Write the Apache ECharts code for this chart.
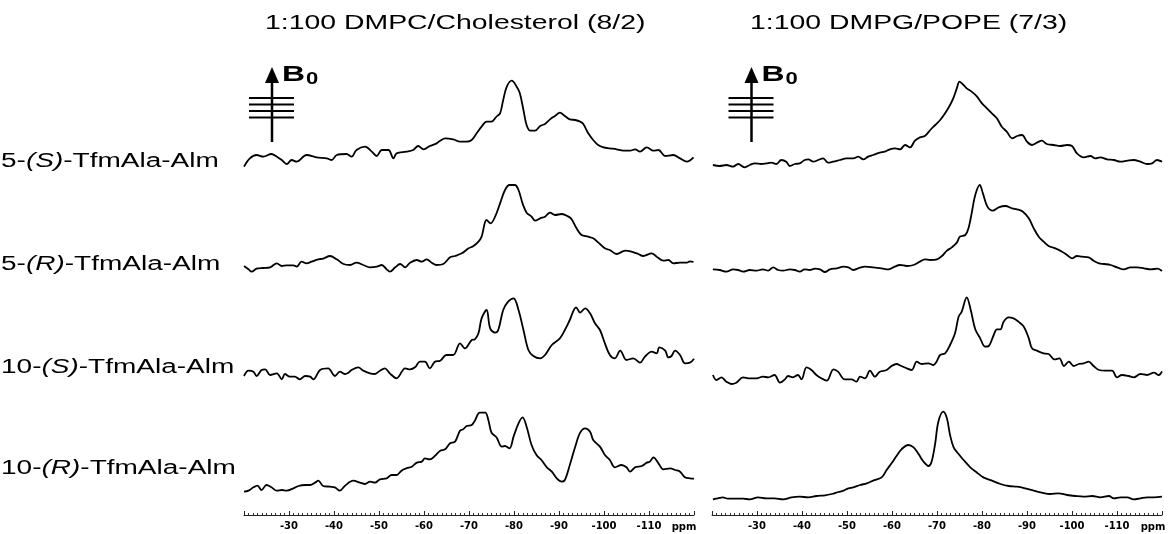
<!DOCTYPE html>
<html>
<head>
<meta charset="utf-8">
<script src="https://cdn.jsdelivr.net/npm/echarts@6/dist/echarts.min.js"></script>
<style>
  html, body { margin: 0; padding: 0; background: #ffffff; }
  #chart { width: 1168px; height: 534px; }
</style>
</head>
<body>
<div id="chart"></div>
<script>
// 19F solid-state NMR spectra of TfmAla-labelled alamethicin in oriented bilayers
const panelTitles = ['1:100 DMPC/Cholesterol (8/2)', '1:100 DMPG/POPE (7/3)'];
const rowLabels = [
  ['5-', '(S)', '-TfmAla-Alm'],
  ['5-', '(R)', '-TfmAla-Alm'],
  ['10-', '(S)', '-TfmAla-Alm'],
  ['10-', '(R)', '-TfmAla-Alm']
];
const shiftMin = -120;   // ppm, right end of the axis
const shiftMax = -20;    // ppm, left end of the axis
const shiftStep = 10;
const axisUnit = 'ppm';

// ---- DMPC/Cholesterol (8/2) ----
const dmpc5S_ppm = [-20.0,-21.3,-22.8,-24.3,-26.1,-27.3,-28.4,-29.5,-30.6,-31.7,-33.9,-36.1,-38.4,-39.5,-40.6,-42.8,-43.9,-45.0,-46.9,-48.4,-49.5,-50.6,-52.1,-53.2,-53.9,-56.1,-57.6,-58.7,-59.9,-61.3,-62.8,-63.6,-64.7,-66.5,-68.0,-69.5,-70.6,-71.7,-72.8,-73.9,-75.0,-76.1,-76.9,-77.6,-78.4,-79.5,-80.6,-81.3,-82.1,-82.8,-83.6,-84.7,-85.8,-86.9,-88.0,-89.1,-90.2,-91.3,-92.4,-93.6,-94.7,-95.4,-96.5,-97.6,-98.7,-99.9,-101.3,-102.8,-104.3,-105.8,-106.9,-108.0,-109.5,-111.0,-112.1,-113.6,-115.4,-116.9,-118.4,-119.9];
const dmpc5S_amp = [10,35,45,40,48,40,30,18,30,25,45,38,35,30,45,48,40,60,70,55,42,60,60,35,50,55,60,72,62,72,80,88,95,92,85,85,90,110,130,145,145,160,170,210,250,268,250,230,180,135,118,118,132,138,152,162,172,162,152,150,145,138,110,90,75,68,65,62,58,58,62,55,68,58,60,42,45,35,25,38];

const dmpc5R_ppm = [-20.0,-21.0,-21.7,-22.8,-24.3,-25.8,-27.3,-28.4,-29.5,-31.0,-31.7,-32.8,-33.9,-35.0,-36.5,-37.6,-39.1,-40.6,-42.1,-43.6,-45.0,-46.5,-48.0,-49.5,-50.6,-51.7,-52.4,-53.6,-54.7,-55.8,-56.9,-58.4,-59.5,-60.6,-61.7,-62.8,-64.3,-65.8,-66.9,-68.4,-69.9,-71.0,-72.1,-72.8,-73.9,-74.8,-75.8,-76.9,-78.0,-79.0,-80.2,-81.0,-81.9,-82.8,-83.9,-84.7,-85.8,-86.9,-88.0,-89.1,-90.6,-92.1,-92.8,-93.9,-95.0,-96.5,-97.6,-99.1,-100.2,-101.3,-102.8,-104.7,-106.1,-107.6,-108.7,-110.6,-111.7,-113.2,-114.3,-115.4,-116.9,-118.4,-119.1,-119.9];
const dmpc5R_amp = [42,32,25,34,36,38,50,42,44,44,40,55,50,55,62,64,72,62,48,45,52,45,38,40,45,32,25,38,48,38,52,60,55,62,52,45,48,68,72,80,95,102,115,130,180,170,190,230,270,285,285,270,230,202,190,178,185,190,202,195,198,190,182,155,135,130,125,108,95,90,78,88,85,78,72,80,70,58,60,50,52,52,56,54];

const dmpc10S_ppm = [-20.0,-21.0,-22.1,-22.8,-23.9,-24.7,-25.8,-27.3,-28.4,-29.1,-30.2,-31.3,-32.4,-33.6,-34.7,-35.4,-36.9,-38.7,-40.2,-41.3,-42.4,-43.2,-43.9,-45.4,-46.5,-48.0,-49.1,-50.2,-51.3,-52.4,-53.9,-55.8,-56.9,-58.0,-59.1,-60.2,-61.3,-62.4,-63.6,-65.0,-66.5,-68.0,-69.1,-70.6,-71.3,-72.1,-72.8,-73.9,-74.7,-75.8,-76.5,-77.6,-78.7,-79.9,-81.0,-82.1,-83.2,-84.3,-85.8,-86.9,-88.4,-90.2,-91.3,-92.4,-93.8,-94.7,-95.8,-96.9,-98.0,-99.1,-100.2,-101.3,-102.4,-103.6,-105.0,-106.5,-108.0,-109.1,-110.6,-111.7,-112.3,-113.6,-114.3,-115.0,-115.8,-116.9,-118.0,-119.1,-120.0];
const dmpc10S_amp = [42,58,55,42,60,62,45,50,32,48,40,40,32,42,40,32,60,65,42,55,48,52,60,68,58,50,48,58,65,50,35,65,62,68,85,85,65,85,88,105,105,140,125,150,152,170,215,240,185,172,180,240,265,275,240,180,120,102,95,105,135,155,180,210,248,232,245,230,200,180,140,105,95,118,90,95,82,100,115,110,128,118,98,102,118,105,80,82,94];

const dmpc10R_ppm = [-20.0,-21.0,-22.1,-23.0,-23.9,-25.0,-26.1,-27.3,-28.4,-29.5,-31.0,-32.1,-33.6,-34.7,-35.8,-36.5,-37.6,-39.1,-40.2,-41.3,-42.4,-44.3,-45.8,-46.9,-48.0,-49.1,-50.2,-51.7,-52.8,-53.9,-55.0,-56.1,-57.3,-58.4,-59.5,-60.2,-61.3,-62.4,-63.6,-64.7,-65.8,-66.9,-68.0,-68.7,-69.5,-70.6,-71.3,-72.4,-73.6,-74.3,-75.0,-76.1,-77.3,-78.0,-79.0,-79.9,-81.0,-81.9,-82.8,-83.9,-85.0,-86.1,-87.3,-88.4,-89.5,-90.6,-91.3,-92.4,-93.6,-94.7,-95.8,-96.9,-97.6,-99.1,-100.2,-101.3,-102.4,-103.9,-105.0,-105.8,-106.9,-108.4,-109.5,-110.2,-111.0,-112.1,-113.2,-114.7,-115.8,-116.9,-118.0,-119.1,-120.0];
const dmpc10R_amp = [25,28,38,43,30,45,38,28,30,28,35,42,45,45,52,58,42,40,38,28,42,58,52,48,55,52,62,65,75,75,88,95,100,112,115,125,122,132,148,152,170,175,208,212,222,225,238,262,262,240,202,188,160,162,155,190,230,248,220,165,135,120,98,85,65,55,60,105,160,202,215,205,180,160,135,120,98,105,98,85,98,102,112,115,128,110,92,95,90,85,68,65,64];

// ---- DMPG/POPE (7/3) ----
const dmpg5S_ppm = [-20.2,-21.7,-23.2,-24.7,-25.8,-27.3,-28.4,-29.5,-31.0,-32.1,-33.2,-34.3,-35.4,-36.5,-37.3,-38.4,-39.5,-40.6,-41.4,-42.5,-43.6,-44.7,-45.8,-46.9,-48.4,-49.9,-51.4,-52.5,-53.6,-54.7,-55.8,-57.3,-58.4,-59.5,-60.7,-61.8,-62.9,-64.0,-65.1,-66.2,-67.3,-68.5,-69.6,-70.7,-71.8,-72.9,-73.7,-74.4,-75.0,-75.9,-76.6,-77.7,-78.9,-80.0,-81.1,-82.2,-83.3,-84.4,-85.5,-86.7,-87.8,-88.9,-90.0,-91.1,-92.2,-93.3,-94.4,-95.9,-97.4,-98.9,-100.0,-101.1,-102.6,-104.1,-105.2,-106.3,-107.8,-109.3,-110.8,-112.3,-113.7,-115.2,-116.7,-117.8,-118.9,-120.0];
const dmpg5S_amp = [15,12,15,10,18,8,15,20,18,20,22,18,30,25,12,18,20,30,32,25,30,35,22,25,30,35,35,40,32,40,45,52,55,62,65,62,75,68,88,98,102,120,135,150,170,195,218,245,265,255,245,235,220,200,185,170,155,130,115,95,102,105,85,75,82,88,78,75,72,75,72,50,38,42,35,38,32,30,25,28,30,25,18,20,30,25];

const dmpg5R_ppm = [-20.2,-21.7,-23.2,-24.7,-25.8,-26.9,-28.4,-29.9,-31.3,-32.5,-33.6,-34.7,-35.8,-37.3,-38.4,-39.5,-40.6,-41.7,-42.9,-44.0,-45.1,-46.2,-47.7,-49.2,-50.3,-51.4,-52.5,-54.0,-55.8,-57.7,-59.2,-60.3,-61.8,-63.3,-64.8,-66.2,-67.3,-68.5,-70.0,-71.1,-72.2,-73.3,-74.4,-75.1,-76.3,-77.0,-77.7,-78.5,-79.5,-80.2,-81.2,-82.4,-83.7,-85.2,-86.7,-87.8,-89.1,-90.4,-91.5,-92.6,-93.7,-94.8,-96.3,-97.8,-98.9,-100.0,-101.1,-102.2,-103.7,-104.8,-106.0,-107.1,-108.6,-110.0,-111.5,-113.0,-114.5,-116.0,-117.5,-119.0,-120.0];
const dmpg5R_amp = [32,30,25,32,30,25,30,28,32,28,38,30,28,32,30,25,32,30,34,32,24,32,35,40,38,30,35,40,38,35,32,38,45,42,45,55,62,60,62,72,88,98,112,130,135,155,200,255,285,260,220,208,218,222,215,212,205,185,155,130,115,102,95,85,75,65,72,70,68,58,50,48,45,38,32,38,38,35,32,34,27];

const dmpg10S_ppm = [-20.2,-21.0,-22.1,-23.2,-24.3,-25.4,-26.9,-28.4,-29.9,-31.3,-32.5,-33.9,-35.1,-36.2,-36.9,-38.0,-39.1,-39.9,-41.0,-42.1,-43.2,-44.3,-45.5,-47.0,-48.0,-49.5,-51.0,-52.1,-52.9,-54.0,-55.1,-56.2,-57.3,-58.8,-59.9,-61.0,-62.1,-63.3,-64.4,-65.5,-66.6,-68.1,-69.2,-69.9,-70.7,-71.8,-72.9,-74.0,-74.8,-75.5,-76.6,-77.5,-78.5,-79.6,-80.7,-81.5,-82.6,-83.3,-84.1,-84.8,-85.9,-87.0,-88.1,-89.3,-90.4,-91.1,-92.2,-93.7,-94.8,-96.1,-97.2,-98.2,-99.3,-100.4,-101.5,-102.6,-103.7,-104.8,-106.0,-107.4,-108.9,-110.0,-111.1,-112.6,-113.7,-115.2,-116.7,-118.2,-119.3,-120.0];
const dmpg10S_amp = [45,30,38,25,18,22,38,35,35,40,38,45,22,32,42,38,45,32,68,60,45,35,28,62,55,32,32,25,40,35,58,40,55,60,72,78,72,65,60,85,78,80,75,85,105,110,135,170,220,235,278,240,182,155,130,132,165,182,182,205,218,215,205,190,155,125,118,110,108,92,95,72,85,72,78,80,85,72,60,58,58,38,45,42,38,48,45,52,45,56];

const dmpg10R_ppm = [-20.2,-21.3,-22.4,-23.5,-24.7,-26.9,-28.4,-30.2,-32.1,-33.9,-35.8,-37.7,-39.5,-41.4,-43.2,-45.1,-46.6,-48.1,-49.2,-50.3,-51.4,-52.9,-54.4,-55.8,-57.7,-58.8,-59.9,-61.0,-62.1,-63.6,-64.8,-65.9,-67.0,-68.1,-68.8,-69.6,-70.3,-71.4,-72.2,-72.9,-73.7,-74.8,-75.9,-77.4,-78.9,-80.3,-82.2,-84.1,-85.9,-87.8,-89.6,-91.5,-93.3,-95.2,-97.0,-98.9,-100.7,-102.6,-104.5,-106.3,-108.2,-109.3,-110.8,-112.3,-113.7,-115.2,-116.7,-118.2,-120.0];
const dmpg10R_amp = [2,5,8,4,4,4,2,8,5,5,2,8,10,8,12,14,18,24,28,35,38,45,50,58,68,90,110,132,152,165,158,138,115,102,115,170,235,265,245,195,158,138,120,98,82,68,58,48,42,40,35,28,22,18,20,15,12,10,12,8,12,5,8,8,2,5,8,8,10];

const spectra = [
  [dmpc5S_ppm, dmpc5S_amp], [dmpc5R_ppm, dmpc5R_amp], [dmpc10S_ppm, dmpc10S_amp], [dmpc10R_ppm, dmpc10R_amp],
  [dmpg5S_ppm, dmpg5S_amp], [dmpg5R_ppm, dmpg5R_amp], [dmpg10S_ppm, dmpg10S_amp], [dmpg10R_ppm, dmpg10R_amp]
];

// ---- layout ----
const FONT = '"Liberation Sans", Arial, sans-serif';
const TICK_FONT = '"DejaVu Sans", sans-serif';
const panelLeft = [244, 712];
const panelWidth = [450, 450];
const rowTop = [60, 170, 280, 390];
const rowHeight = 110;
const ampTop = 330;            // intensity at the top edge of each row band

const grids = [], xAxes = [], yAxes = [], series = [];
for (let p = 0; p < 2; p++) {
  for (let r = 0; r < 4; r++) {
    const idx = p * 4 + r;
    const isBottom = r === 3;
    grids.push({ left: panelLeft[p], top: rowTop[r], width: panelWidth[p], height: rowHeight });
    xAxes.push({
      gridIndex: idx, type: 'value', min: shiftMin, max: shiftMax, interval: shiftStep,
      inverse: true, show: isBottom, offset: 15,
      axisLine: { show: true, onZero: false, lineStyle: { color: '#222', width: 1 } },
      axisTick: { show: true, inside: true, length: 4, lineStyle: { color: '#222', width: 1 } },
      minorTick: { show: true, splitNumber: 10, length: 2, lineStyle: { color: '#333', width: 1 } },
      splitLine: { show: false }, minorSplitLine: { show: false },
      axisLabel: {
        show: true, showMinLabel: false, showMaxLabel: false, margin: 6,
        fontFamily: TICK_FONT, fontWeight: 'bold', fontSize: 10, color: '#000'
      }
    });
    yAxes.push({ gridIndex: idx, type: 'value', min: 0, max: ampTop, show: false });
    const [ppm, amp] = spectra[idx];
    series.push({
      type: 'line', xAxisIndex: idx, yAxisIndex: idx,
      data: ppm.map((v, i) => [v, amp[i]]),
      showSymbol: false, smooth: 0.35, clip: false,
      lineStyle: { color: '#000', width: 1.8 },
      silent: true
    });
  }
}

// ---- annotations ----
const graphics = [];
const titleLeft = [265, 750];
panelTitles.forEach((t, p) => {
  graphics.push({
    type: 'text', x: titleLeft[p], y: 23, scaleX: 1.42,
    style: { text: t, font: '20px ' + FONT, fill: '#000', align: 'left', verticalAlign: 'middle', textAlign: 'left', textVerticalAlign: 'middle' }
  });
});

const labelCenter = [161, 264, 367, 468];
rowLabels.forEach((parts, r) => {
  graphics.push({
    type: 'text', x: 1, y: labelCenter[r], scaleX: 1.4,
    style: {
      text: '{n|' + parts[0] + '}{i|' + parts[1] + '}{n|' + parts[2] + '}',
      rich: {
        n: { fontSize: 20, fontFamily: FONT, fill: '#000' },
        i: { fontSize: 20, fontFamily: FONT, fontStyle: 'italic', fill: '#000' }
      },
      align: 'left', verticalAlign: 'middle', textAlign: 'left', textVerticalAlign: 'middle'
    }
  });
});

// B0 field direction symbol with stacked bilayer planes
const fieldX = [272, 751.5];
fieldX.forEach((cx) => {
  graphics.push({ type: 'line', shape: { x1: cx, y1: 80, x2: cx, y2: 142 }, style: { stroke: '#000', lineWidth: 2.5 } });
  graphics.push({ type: 'polygon', shape: { points: [[cx, 67], [cx - 7, 83], [cx + 7, 83]] }, style: { fill: '#000' } });
  [98, 104.5, 111, 117.5].forEach((y) => {
    graphics.push({ type: 'line', shape: { x1: cx - 23, y1: y, x2: cx + 22, y2: y }, style: { stroke: '#000', lineWidth: 2.2 } });
  });
  graphics.push({
    type: 'text', x: cx + 10, y: 75, scaleX: 1.45,
    style: { text: 'B', font: 'bold 22px ' + FONT, fill: '#000', align: 'left', verticalAlign: 'middle', textAlign: 'left', textVerticalAlign: 'middle' }
  });
  graphics.push({
    type: 'text', x: cx + 34, y: 79, scaleX: 1.3,
    style: { text: '0', font: 'bold 17px ' + FONT, fill: '#000', align: 'left', verticalAlign: 'middle', textAlign: 'left', textVerticalAlign: 'middle' }
  });
});

// unit label at the right end of each axis
const unitX = [684, 1153];
unitX.forEach((x) => {
  graphics.push({
    type: 'text', x: x, y: 527,
    style: { text: axisUnit, font: 'bold 10px ' + TICK_FONT, fill: '#000', align: 'center', verticalAlign: 'middle', textAlign: 'center', textVerticalAlign: 'middle' }
  });
});

const chart = echarts.init(document.getElementById('chart'), null, { renderer: 'canvas' });
chart.setOption({
  animation: false,
  backgroundColor: '#ffffff',
  grid: grids,
  xAxis: xAxes,
  yAxis: yAxes,
  series: series,
  graphic: { elements: graphics }
});
</script>
</body>
</html>
